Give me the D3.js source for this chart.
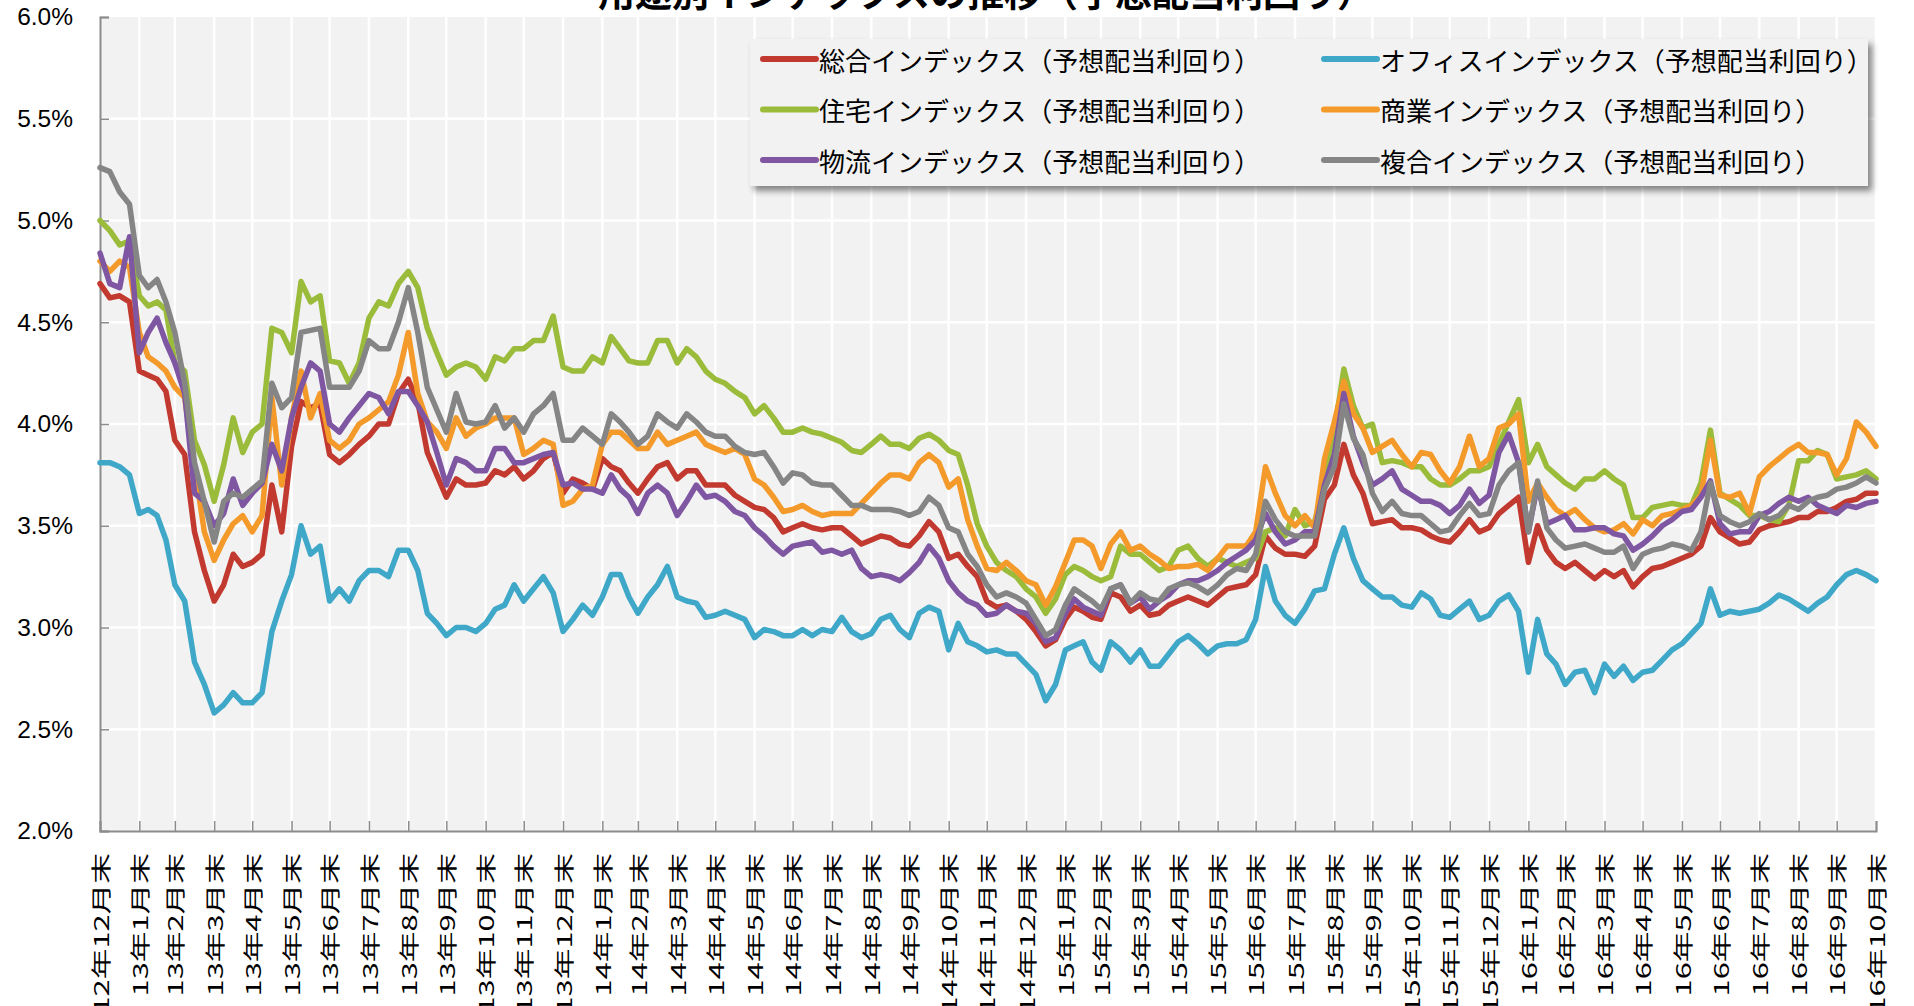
<!DOCTYPE html>
<html>
<head>
<meta charset="utf-8">
<script src="https://d3js.org/d3.v7.min.js"></script>
<title>用途別インデックスの推移</title>
<style>
  body { margin: 0; background: #fff; overflow: hidden; }
</style>
</head>
<body>
<div id="chart"></div>
<script>
// month-end tick labels (12年12月末 .. 16年10月末)
var monthLabels = ["12年12月末",
  "13年1月末","13年2月末","13年3月末","13年4月末","13年5月末","13年6月末",
  "13年7月末","13年8月末","13年9月末","13年10月末","13年11月末","13年12月末",
  "14年1月末","14年2月末","14年3月末","14年4月末","14年5月末","14年6月末",
  "14年7月末","14年8月末","14年9月末","14年10月末","14年11月末","14年12月末",
  "15年1月末","15年2月末","15年3月末","15年4月末","15年5月末","15年6月末",
  "15年7月末","15年8月末","15年9月末","15年10月末","15年11月末","15年12月末",
  "16年1月末","16年2月末","16年3月末","16年4月末","16年5月末","16年6月末",
  "16年7月末","16年8月末","16年9月末","16年10月末"];

var yTicks = [2.0, 2.5, 3.0, 3.5, 4.0, 4.5, 5.0, 5.5, 6.0];

var seriesNames = ["総合インデックス（予想配当利回り）", "オフィスインデックス（予想配当利回り）",
  "住宅インデックス（予想配当利回り）", "商業インデックス（予想配当利回り）",
  "物流インデックス（予想配当利回り）", "複合インデックス（予想配当利回り）"];
var seriesColors = ["#c23a2f", "#3fa8c8", "#9bbb3b", "#f39a2b", "#7e56a2", "#858585"];

// values read four times a month (month end, +1/4, +1/2, +3/4), %
var sogo = [
  4.69,4.62,4.63,4.60, 4.26,4.24,4.22,4.16, 3.92,3.85,3.47,3.28, 3.13,3.21,3.36,3.30,
  3.32,3.36,3.70,3.47, 3.89,4.11,4.08,4.10, 3.85,3.81,3.85,3.90, 3.94,4.00,4.00,4.15,
  4.22,4.11,3.86,3.75, 3.64,3.73,3.70,3.70, 3.71,3.77,3.75,3.79, 3.73,3.77,3.83,3.86,
  3.66,3.73,3.71,3.68, 3.83,3.79,3.77,3.71, 3.66,3.73,3.79,3.81, 3.73,3.77,3.77,3.70,
  3.70,3.70,3.65,3.62, 3.59,3.58,3.54,3.47, 3.49,3.51,3.49,3.48, 3.49,3.49,3.45,3.41,
  3.43,3.45,3.44,3.41, 3.40,3.45,3.52,3.47, 3.34,3.36,3.30,3.25, 3.13,3.10,3.11,3.08,
  3.04,2.98,2.91,2.94, 3.04,3.10,3.08,3.05, 3.04,3.17,3.15,3.08, 3.11,3.06,3.07,3.11,
  3.13,3.15,3.13,3.11, 3.15,3.19,3.20,3.21, 3.26,3.45,3.39,3.36, 3.36,3.35,3.40,3.63,
  3.70,3.90,3.75,3.66, 3.51,3.52,3.53,3.49, 3.49,3.48,3.45,3.43, 3.42,3.47,3.53,3.47,
  3.49,3.56,3.60,3.64, 3.32,3.50,3.38,3.32, 3.29,3.32,3.28,3.24, 3.28,3.25,3.28,3.20,
  3.25,3.29,3.30,3.32, 3.34,3.36,3.40,3.54, 3.47,3.44,3.41,3.42, 3.48,3.50,3.51,3.52,
  3.54,3.54,3.57,3.57, 3.59,3.62,3.63,3.66, 3.66];

var office = [
  3.81,3.81,3.79,3.75, 3.56,3.58,3.55,3.43, 3.21,3.13,2.83,2.72, 2.58,2.62,2.68,2.63,
  2.63,2.68,2.98,3.13, 3.26,3.50,3.36,3.40, 3.13,3.19,3.13,3.23, 3.28,3.28,3.25,3.38,
  3.38,3.28,3.07,3.02, 2.96,3.00,3.00,2.98, 3.02,3.09,3.11,3.21, 3.13,3.19,3.25,3.17,
  2.98,3.04,3.11,3.06, 3.15,3.26,3.26,3.15, 3.07,3.15,3.21,3.30, 3.15,3.13,3.12,3.05,
  3.06,3.08,3.06,3.04, 2.95,2.99,2.98,2.96, 2.96,2.99,2.96,2.99, 2.98,3.05,2.98,2.95,
  2.97,3.04,3.06,2.99, 2.95,3.07,3.10,3.08, 2.89,3.02,2.93,2.91, 2.88,2.89,2.87,2.87,
  2.82,2.77,2.64,2.72, 2.89,2.91,2.93,2.83, 2.79,2.93,2.89,2.83, 2.89,2.81,2.81,2.87,
  2.93,2.96,2.92,2.87, 2.91,2.92,2.92,2.94, 3.04,3.30,3.13,3.06, 3.02,3.09,3.18,3.19,
  3.36,3.49,3.34,3.23, 3.19,3.15,3.15,3.11, 3.10,3.17,3.14,3.06, 3.05,3.09,3.13,3.04,
  3.06,3.13,3.16,3.08, 2.78,3.04,2.87,2.82, 2.72,2.78,2.79,2.68, 2.82,2.76,2.81,2.74,
  2.78,2.79,2.84,2.89, 2.92,2.97,3.02,3.19, 3.06,3.08,3.07,3.08, 3.09,3.12,3.16,3.14,
  3.11,3.08,3.12,3.15, 3.21,3.26,3.28,3.26, 3.23];

var jutaku = [
  5.00,4.95,4.88,4.90, 4.63,4.58,4.60,4.56, 4.30,4.26,3.92,3.80, 3.62,3.80,4.03,3.86,
  3.96,4.00,4.47,4.45, 4.35,4.70,4.60,4.63, 4.31,4.30,4.20,4.30, 4.52,4.60,4.58,4.69,
  4.75,4.67,4.47,4.35, 4.24,4.28,4.30,4.28, 4.22,4.33,4.31,4.37, 4.37,4.41,4.41,4.53,
  4.28,4.26,4.26,4.33, 4.30,4.43,4.37,4.31, 4.30,4.30,4.41,4.41, 4.30,4.37,4.33,4.26,
  4.22,4.20,4.16,4.13, 4.05,4.09,4.03,3.96, 3.96,3.98,3.96,3.95, 3.93,3.91,3.87,3.86,
  3.90,3.94,3.90,3.90, 3.88,3.93,3.95,3.92, 3.87,3.85,3.70,3.51, 3.40,3.32,3.28,3.25,
  3.19,3.15,3.07,3.14, 3.26,3.30,3.28,3.25, 3.23,3.25,3.40,3.36, 3.36,3.32,3.28,3.30,
  3.38,3.40,3.34,3.30, 3.34,3.32,3.30,3.32, 3.34,3.47,3.49,3.45, 3.58,3.50,3.52,3.71,
  3.96,4.27,4.09,3.98, 4.00,3.81,3.82,3.81, 3.79,3.79,3.73,3.70, 3.70,3.73,3.77,3.77,
  3.79,3.90,4.01,4.12, 3.81,3.90,3.79,3.75, 3.71,3.68,3.73,3.73, 3.77,3.73,3.70,3.54,
  3.54,3.59,3.60,3.61, 3.60,3.60,3.71,3.97, 3.66,3.63,3.60,3.55, 3.55,3.53,3.52,3.60,
  3.82,3.82,3.87,3.85, 3.73,3.74,3.75,3.77, 3.73];

var shogyo = [
  4.80,4.75,4.80,4.77, 4.45,4.33,4.30,4.26, 4.18,4.13,3.79,3.47, 3.33,3.43,3.51,3.55,
  3.47,3.55,4.13,3.70, 4.03,4.26,4.03,4.15, 3.92,3.88,3.92,4.00, 4.03,4.07,4.11,4.24,
  4.45,4.15,4.01,3.96, 3.88,4.03,3.94,3.98, 4.00,4.03,4.03,4.03, 3.85,3.88,3.92,3.90,
  3.60,3.62,3.68,3.70, 3.90,3.96,3.96,3.92, 3.88,3.88,3.96,3.90, 3.92,3.94,3.96,3.90,
  3.88,3.86,3.88,3.85, 3.73,3.70,3.64,3.57, 3.58,3.60,3.57,3.55, 3.56,3.56,3.56,3.61,
  3.66,3.71,3.75,3.75, 3.73,3.81,3.85,3.81, 3.69,3.73,3.53,3.40, 3.29,3.28,3.32,3.28,
  3.23,3.21,3.11,3.20, 3.32,3.43,3.43,3.40, 3.29,3.41,3.47,3.38, 3.40,3.36,3.33,3.29,
  3.30,3.30,3.31,3.28, 3.34,3.40,3.40,3.40, 3.47,3.79,3.66,3.55, 3.50,3.55,3.49,3.83,
  4.01,4.21,4.05,3.98, 3.86,3.89,3.92,3.85, 3.79,3.86,3.85,3.77, 3.71,3.79,3.94,3.79,
  3.83,3.98,4.00,4.05, 3.62,3.71,3.64,3.58, 3.55,3.58,3.53,3.49, 3.47,3.48,3.51,3.46,
  3.53,3.50,3.55,3.56, 3.58,3.60,3.65,3.92, 3.65,3.64,3.66,3.56, 3.74,3.79,3.83,3.87,
  3.90,3.86,3.86,3.85, 3.75,3.83,4.01,3.96, 3.89];

var butsuryu = [
  4.84,4.69,4.67,4.92, 4.35,4.45,4.52,4.40, 4.30,4.15,3.66,3.62, 3.50,3.56,3.73,3.60,
  3.66,3.71,3.90,3.77, 4.03,4.18,4.30,4.26, 4.00,3.96,4.03,4.09, 4.15,4.13,4.05,4.16,
  4.16,4.09,4.01,3.86, 3.70,3.83,3.81,3.77, 3.77,3.88,3.88,3.81, 3.81,3.83,3.85,3.86,
  3.70,3.71,3.68,3.68, 3.66,3.75,3.68,3.64, 3.56,3.66,3.70,3.66, 3.55,3.62,3.70,3.64,
  3.65,3.62,3.57,3.55, 3.49,3.45,3.40,3.36, 3.40,3.41,3.42,3.37, 3.38,3.36,3.38,3.29,
  3.25,3.26,3.25,3.23, 3.27,3.32,3.40,3.34, 3.23,3.17,3.13,3.11, 3.06,3.07,3.11,3.08,
  3.07,3.02,2.93,2.95, 3.07,3.14,3.10,3.08, 3.06,3.19,3.21,3.12, 3.15,3.09,3.13,3.16,
  3.21,3.23,3.23,3.25, 3.28,3.32,3.35,3.38, 3.43,3.56,3.47,3.41, 3.43,3.47,3.47,3.70,
  3.85,4.15,3.94,3.81, 3.70,3.73,3.77,3.68, 3.65,3.62,3.62,3.60, 3.56,3.60,3.68,3.61,
  3.65,3.86,3.95,3.81, 3.47,3.70,3.51,3.53, 3.55,3.48,3.48,3.49, 3.49,3.46,3.45,3.38,
  3.41,3.45,3.50,3.53, 3.57,3.58,3.64,3.72, 3.51,3.46,3.47,3.47, 3.55,3.57,3.61,3.64,
  3.62,3.64,3.60,3.58, 3.56,3.60,3.59,3.61, 3.62];

var fukugo = [
  5.26,5.24,5.14,5.08, 4.73,4.67,4.71,4.60, 4.45,4.20,3.81,3.62, 3.42,3.62,3.66,3.64,
  3.68,3.72,4.20,4.08, 4.13,4.45,4.46,4.47, 4.18,4.18,4.18,4.26, 4.41,4.37,4.37,4.50,
  4.67,4.45,4.18,4.07, 3.96,4.15,4.01,4.00, 4.01,4.09,3.98,4.03, 3.96,4.05,4.09,4.15,
  3.92,3.92,3.98,3.94, 3.90,4.05,4.01,3.96, 3.90,3.94,4.05,4.01, 3.98,4.05,4.01,3.96,
  3.94,3.94,3.89,3.86, 3.85,3.86,3.79,3.71, 3.76,3.75,3.71,3.70, 3.70,3.65,3.60,3.60,
  3.58,3.58,3.58,3.57, 3.55,3.57,3.64,3.60, 3.49,3.47,3.36,3.30, 3.21,3.15,3.17,3.15,
  3.12,3.04,2.96,2.99, 3.11,3.19,3.16,3.13, 3.09,3.19,3.21,3.12, 3.17,3.14,3.13,3.19,
  3.21,3.22,3.20,3.17, 3.21,3.26,3.29,3.28, 3.36,3.62,3.53,3.47, 3.45,3.45,3.45,3.68,
  3.79,4.10,3.93,3.85, 3.66,3.57,3.62,3.56, 3.55,3.55,3.51,3.47, 3.48,3.55,3.61,3.55,
  3.56,3.70,3.77,3.81, 3.47,3.72,3.49,3.43, 3.39,3.40,3.41,3.39, 3.37,3.37,3.40,3.29,
  3.36,3.38,3.39,3.41, 3.40,3.38,3.47,3.71, 3.55,3.52,3.50,3.52, 3.56,3.53,3.55,3.60,
  3.58,3.62,3.64,3.65, 3.68,3.69,3.71,3.74, 3.71];

var seriesData = [sogo, office, jutaku, shogyo, butsuryu, fukugo];

var width = 1914, height = 1006;
var plotLeft = 100, plotRight = 1876, plotTop = 17, plotBottom = 831;

var svg = d3.select("#chart").append("svg")
    .attr("width", width)
    .attr("height", height);

// month ends: day 0 of the following month
var monthEnds = monthLabels.map(function(d, i) { return new Date(Date.UTC(2013, i, 0)); });

var x = d3.scaleUtc()
    .domain([monthEnds[0], monthEnds[monthEnds.length - 1]])
    .range([plotLeft, plotRight]);

var y = d3.scaleLinear()
    .domain([2, 6])
    .range([plotBottom, plotTop]);

function pointDate(i) {
  var m = Math.floor(i / 4), q = i % 4;
  if (m >= monthEnds.length - 1) return monthEnds[monthEnds.length - 1];
  var a = monthEnds[m].getTime(), b = monthEnds[m + 1].getTime();
  return new Date(a + (b - a) * q / 4);
}

// plot background
svg.append("rect")
    .attr("x", plotLeft).attr("y", plotTop)
    .attr("width", plotRight - plotLeft).attr("height", plotBottom - plotTop)
    .attr("fill", "#f2f2f2");

// gridlines
svg.append("g").selectAll("line")
    .data(yTicks.filter(function(d) { return d > 2 && d < 6; }))
    .enter().append("line")
    .attr("x1", plotLeft).attr("x2", plotRight)
    .attr("y1", function(d) { return y(d); }).attr("y2", function(d) { return y(d); })
    .attr("stroke", "#fff").attr("stroke-width", 2.5);

svg.append("g").selectAll("line")
    .data(monthEnds.slice(1))
    .enter().append("line")
    .attr("x1", function(d) { return x(d); }).attr("x2", function(d) { return x(d); })
    .attr("y1", plotTop).attr("y2", plotBottom)
    .attr("stroke", "#fff").attr("stroke-width", 2.5);

// axes
var yAxis = d3.axisLeft(y).tickValues(yTicks).tickSize(-9).tickPadding(27)
    .tickFormat(function(d) { return d.toFixed(1) + "%"; });
var gy = svg.append("g").attr("transform", "translate(" + plotLeft + ",0)").call(yAxis);
gy.select(".domain").attr("stroke", "#8c8c8c").attr("stroke-width", 2);
gy.selectAll(".tick line").attr("stroke", "#8c8c8c").attr("stroke-width", 1.5);
gy.selectAll(".tick text")
    .attr("font-family", "'Liberation Sans', Arial, sans-serif")
    .attr("font-size", 24.5).attr("fill", "#000");

var xAxis = d3.axisBottom(x).tickValues(monthEnds).tickSize(-10).tickFormat("");
var gx = svg.append("g").attr("transform", "translate(0," + plotBottom + ")").call(xAxis);
gx.select(".domain").attr("stroke", "#8c8c8c").attr("stroke-width", 2);
gx.selectAll(".tick line").attr("stroke", "#8c8c8c").attr("stroke-width", 1.5);

svg.append("g").selectAll("text")
    .data(monthLabels)
    .enter().append("text")
    .attr("transform", function(d, i) {
      return "translate(" + x(monthEnds[i]) + ",853) rotate(-90) scale(1.5,1)";
    })
    .attr("text-anchor", "end")
    .attr("dominant-baseline", "central")
    .attr("font-family", "'Noto Sans CJK JP', sans-serif")
    .attr("font-size", 20.5)
    .attr("fill", "#000")
    .text(function(d) { return d; });

// lines
var line = d3.line()
    .x(function(d, i) { return x(pointDate(i)); })
    .y(function(d) { return y(d); });

svg.append("g").selectAll("path")
    .data(seriesData)
    .enter().append("path")
    .attr("d", line)
    .attr("fill", "none")
    .attr("stroke", function(d, i) { return seriesColors[i]; })
    .attr("stroke-width", 5.5)
    .attr("stroke-linejoin", "round")
    .attr("stroke-linecap", "round");

// title (mostly above the top edge)
svg.append("text")
    .attr("x", 986).attr("y", 7)
    .attr("text-anchor", "middle")
    .attr("font-family", "'Noto Sans CJK JP', sans-serif")
    .attr("font-weight", "bold")
    .attr("font-size", 37)
    .text("用途別インデックスの推移（予想配当利回り）");

// legend
var defs = svg.append("defs");
var shadow = defs.append("filter").attr("id", "shadow")
    .attr("x", "-5%").attr("y", "-10%").attr("width", "115%").attr("height", "130%");
shadow.append("feDropShadow")
    .attr("dx", 4).attr("dy", 5).attr("stdDeviation", 3)
    .attr("flood-color", "#000").attr("flood-opacity", 0.45);

var legend = svg.append("g");
legend.append("rect")
    .attr("x", 750).attr("y", 39).attr("width", 1118).attr("height", 147)
    .attr("fill", "#f2f2f2")
    .attr("filter", "url(#shadow)");

var legendCols = [763, 1324];
var legendRows = [59, 109.5, 160];

var items = legend.selectAll("g.item")
    .data(seriesNames)
    .enter().append("g")
    .attr("class", "item")
    .attr("transform", function(d, i) {
      return "translate(" + legendCols[i % 2] + "," + legendRows[Math.floor(i / 2)] + ")";
    });

items.append("line")
    .attr("x1", 0).attr("x2", 53).attr("y1", 0).attr("y2", 0)
    .attr("stroke", function(d, i) { return seriesColors[i]; })
    .attr("stroke-width", 6)
    .attr("stroke-linecap", "round");

items.append("text")
    .attr("x", 56).attr("y", 0)
    .attr("dominant-baseline", "central")
    .attr("font-family", "'Noto Sans CJK JP', sans-serif")
    .attr("font-size", 26)
    .attr("fill", "#000")
    .text(function(d) { return d; });
</script>
</body>
</html>
